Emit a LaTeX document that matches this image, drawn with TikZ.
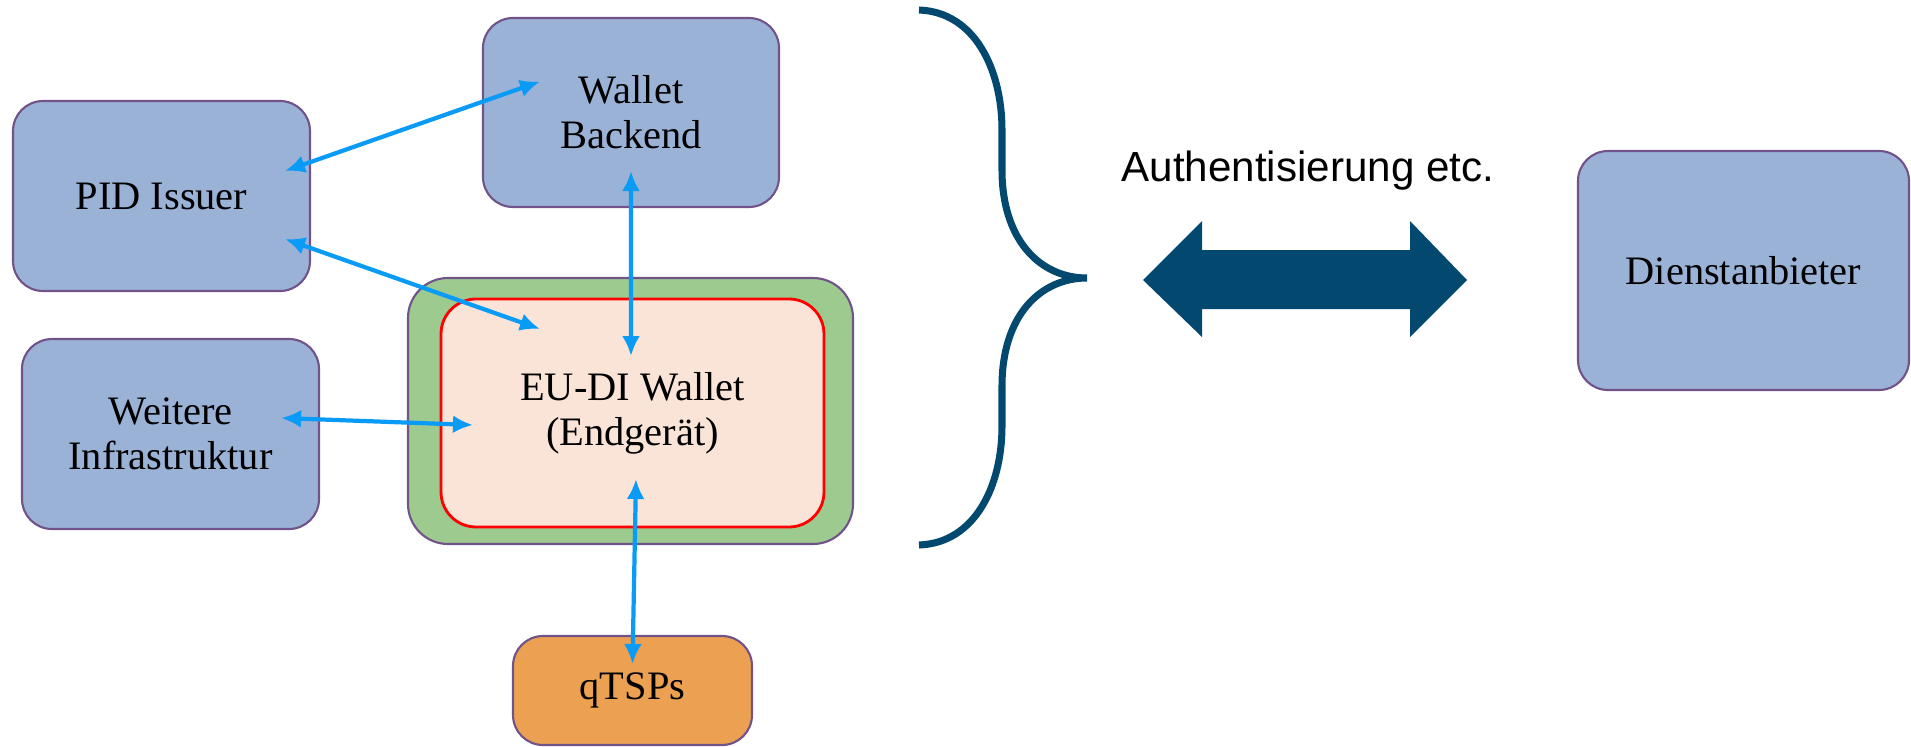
\documentclass[tikz,border=0pt]{standalone}
\usepackage{fontspec}
\setmainfont{Liberation Serif}
\newfontfamily\arialfont{Liberation Sans}
\usetikzlibrary{arrows.meta}
\definecolor{boxblue}{HTML}{9BB2D7}
\definecolor{boxedge}{HTML}{71538A}
\definecolor{walletgreen}{HTML}{9DCB8F}
\definecolor{walletfill}{HTML}{FAE4D7}
\definecolor{qtspfill}{HTML}{EBA052}
\definecolor{linkblue}{HTML}{0A9BF6}
\definecolor{navy}{HTML}{03496F}
\begin{document}
\begin{tikzpicture}[x=0.1mm, y=-0.1mm,
    box/.style={draw=boxedge, line width=0.6pt, fill=boxblue, rounded corners=3mm, align=center, inner sep=0, font=\fontsize{11.5}{12.8}\selectfont},
    link/.style={linkblue, line width=1.2pt, >={Latex[length=2mm,width=1.8mm]}, <->}]
    \useasboundingbox (0,0) rectangle (1911,747);
    % boxes
    \node[box, minimum width=29.7mm, minimum height=19mm] (pid) at (161.5,196) {PID Issuer};
    \node[box, minimum width=29.6mm, minimum height=18.9mm] (backend) at (631,112.5) {Wallet\\Backend};
    \node[box, minimum width=29.7mm, minimum height=19mm] (infra) at (170.5,434) {Weitere\\Infrastruktur};
    \node[draw=boxedge, line width=0.6pt, fill=walletgreen, rounded corners=4mm, minimum width=44.5mm, minimum height=26.6mm] (device) at (630.5,411) {};
    \node[box, draw=red, line width=0.8pt, fill=walletfill, rounded corners=3.5mm, minimum width=38.3mm, minimum height=22.8mm] (wallet) at (632.5,413) {EU-DI Wallet\\(Endgerät)};
    \node[box, fill=qtspfill, minimum width=23.9mm, minimum height=10.9mm] (qtsp) at (632.5,690.5) {qTSPs};
    \node[box, minimum width=33.1mm, minimum height=23.9mm] (provider) at (1743.5,270.5) {Dienstanbieter};
    \node[font=\arialfont\fontsize{12}{14}\selectfont] (auth) at (1308,171) {Authentisierung etc.};
    % links
    \draw[link] ([shift={(-2.6mm,2.5mm)}]pid.east) -- ([shift={(-9.1mm,3.1mm)}]backend.center);
    \draw[link] ([shift={(-2.6mm,-4.3mm)}]pid.east) -- ([shift={(-9.25mm,8.4mm)}]wallet.center);
    \draw[link] ([yshift=-5.85mm]backend.center) -- ([shift={(-0.15mm,5.7mm)}]wallet.center);
    \draw[link] ([shift={(-3.9mm,1.6mm)}]infra.east) -- ([shift={(-15.95mm,-1.2mm)}]wallet.center);
    \draw[link] ([shift={(0.35mm,-6.6mm)}]wallet.center) -- ([yshift=2.65mm]qtsp.center);
    % brace and big arrow
    \draw[navy, line width=2pt] (919,10) .. controls (975,12) and (1002,70) .. (1002,130) -- (1002,170)
        .. controls (1002,240) and (1040,278) .. (1087,278)
        .. controls (1040,278) and (1002,316) .. (1002,386) -- (1002,426)
        .. controls (1002,486) and (975,543) .. (919,545);
    \fill[navy] (1143,280) -- (1202,221) -- (1202,250) -- (1410,250) -- (1410,221) -- (1467,280)
        -- (1410,337) -- (1410,309) -- (1202,309) -- (1202,337) -- cycle;
\end{tikzpicture}
\end{document}
